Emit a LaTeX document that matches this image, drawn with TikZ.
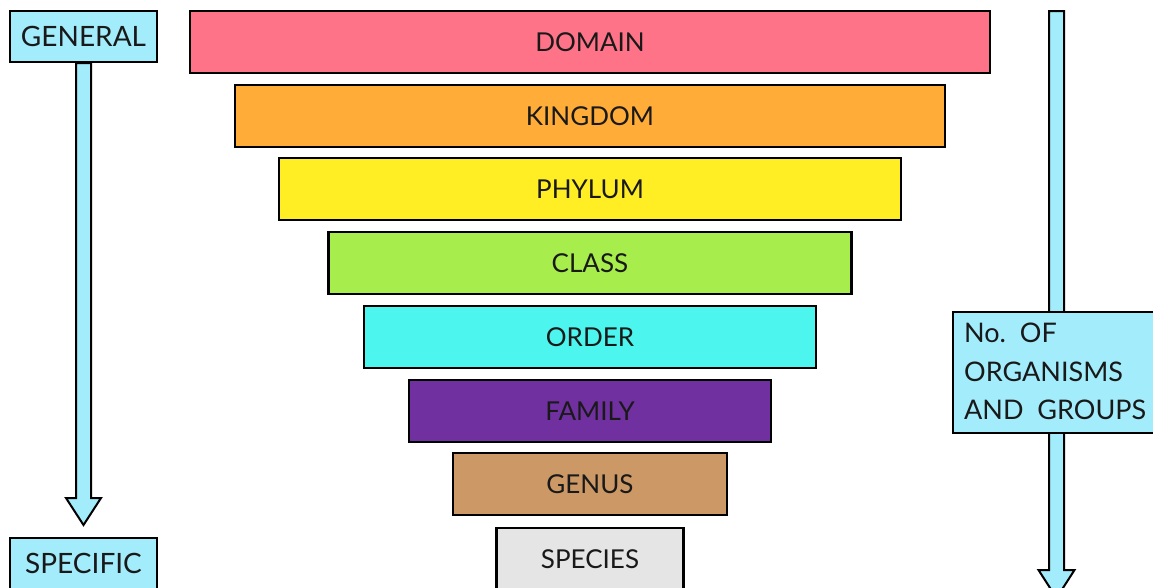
\documentclass[tikz,border=0pt]{standalone}
\usepackage{fontspec}
\setmainfont{Lato}
\usetikzlibrary{calc}
\definecolor{cDomain}{HTML}{FF7388}
\definecolor{cKingdom}{HTML}{FFAC38}
\definecolor{cPhylum}{HTML}{FFEE24}
\definecolor{cClass}{HTML}{A7EE4C}
\definecolor{cOrder}{HTML}{4CF6EF}
\definecolor{cFamily}{HTML}{7030A0}
\definecolor{cGenus}{HTML}{CC9966}
\definecolor{cSpecies}{HTML}{E5E5E5}
\definecolor{cBlue}{HTML}{A3ECFB}
\begin{document}
\begin{tikzpicture}[x=1pt,y=-1pt,
  txt/.style={font=\fontsize{26}{30}\selectfont,text=black!90},
  band/.style={txt,draw=black,line width=2.2pt,minimum height=62pt,inner sep=0pt},
  labelbox/.style={txt,draw=black,line width=2pt,fill=cBlue,inner sep=0pt},
  blockarrow/.style={draw=black,line width=2pt,fill=cBlue,line join=miter}]
\useasboundingbox (0,0) rectangle (1153,587);
\fill[white] (0,0) rectangle (1153,587);
% bands
\node[band,fill=cDomain,minimum width=800pt] (domain) at (590,42) {DOMAIN};
\node[band,fill=cKingdom,minimum width=710pt] (kingdom) at (590,116) {KINGDOM};
\node[band,fill=cPhylum,minimum width=622pt] (phylum) at (590,189) {PHYLUM};
\node[band,fill=cClass,minimum width=523pt] (class) at (590,263) {CLASS};
\node[band,fill=cOrder,minimum width=452pt] (order) at (590,337) {ORDER};
\node[band,fill=cFamily,minimum width=362pt] (family) at (590,411) {FAMILY};
\node[band,fill=cGenus,minimum width=274pt] (genus) at (590,484) {GENUS};
\node[band,fill=cSpecies,minimum width=187pt] (species) at (590,559) {SPECIES};
% left labels
\node[labelbox,minimum width=147pt,minimum height=51pt,font=\fontsize{28}{30}\selectfont] (general) at (83.5,36.5) {GENERAL};
\node[labelbox,minimum width=147pt,minimum height=51pt,font=\fontsize{28}{30}\selectfont] (specific) at (83.5,563.5) {SPECIFIC};
\coordinate (ltip) at (83.5,525);
\draw[blockarrow] ($(general.south)+(-7.5,0)$) -- ($(general.south)+(7.5,0)$)
  -- ($(ltip)+(7.5,-27)$) -- ($(ltip)+(17.5,-27)$) -- (ltip)
  -- ($(ltip)+(-17.5,-27)$) -- ($(ltip)+(-7.5,-27)$) -- cycle;
% right arrow
\coordinate (rtop) at (1056.5,11);
\coordinate (rtip) at (1056.5,598);
\draw[blockarrow] ($(rtop)+(-7.5,0)$) -- ($(rtop)+(7.5,0)$)
  -- ($(rtip)+(7.5,-28)$) -- ($(rtip)+(18,-28)$) -- (rtip)
  -- ($(rtip)+(-18,-28)$) -- ($(rtip)+(-7.5,-28)$) -- cycle;
\node[labelbox,minimum width=206pt,minimum height=121pt,anchor=north west] (count) at (952,311) {};
\node[txt,anchor=west,inner sep=0pt,font=\fontsize{27}{30}\selectfont] (t1) at (964,333) {No.\ \ OF};
\node[txt,anchor=west,inner sep=0pt,font=\fontsize{27}{30}\selectfont] (t2) at (964,372) {ORGANISMS};
\node[txt,anchor=west,inner sep=0pt,font=\fontsize{27}{30}\selectfont] (t3) at (964,410) {AND\ \ GROUPS};
\end{tikzpicture}
\end{document}
